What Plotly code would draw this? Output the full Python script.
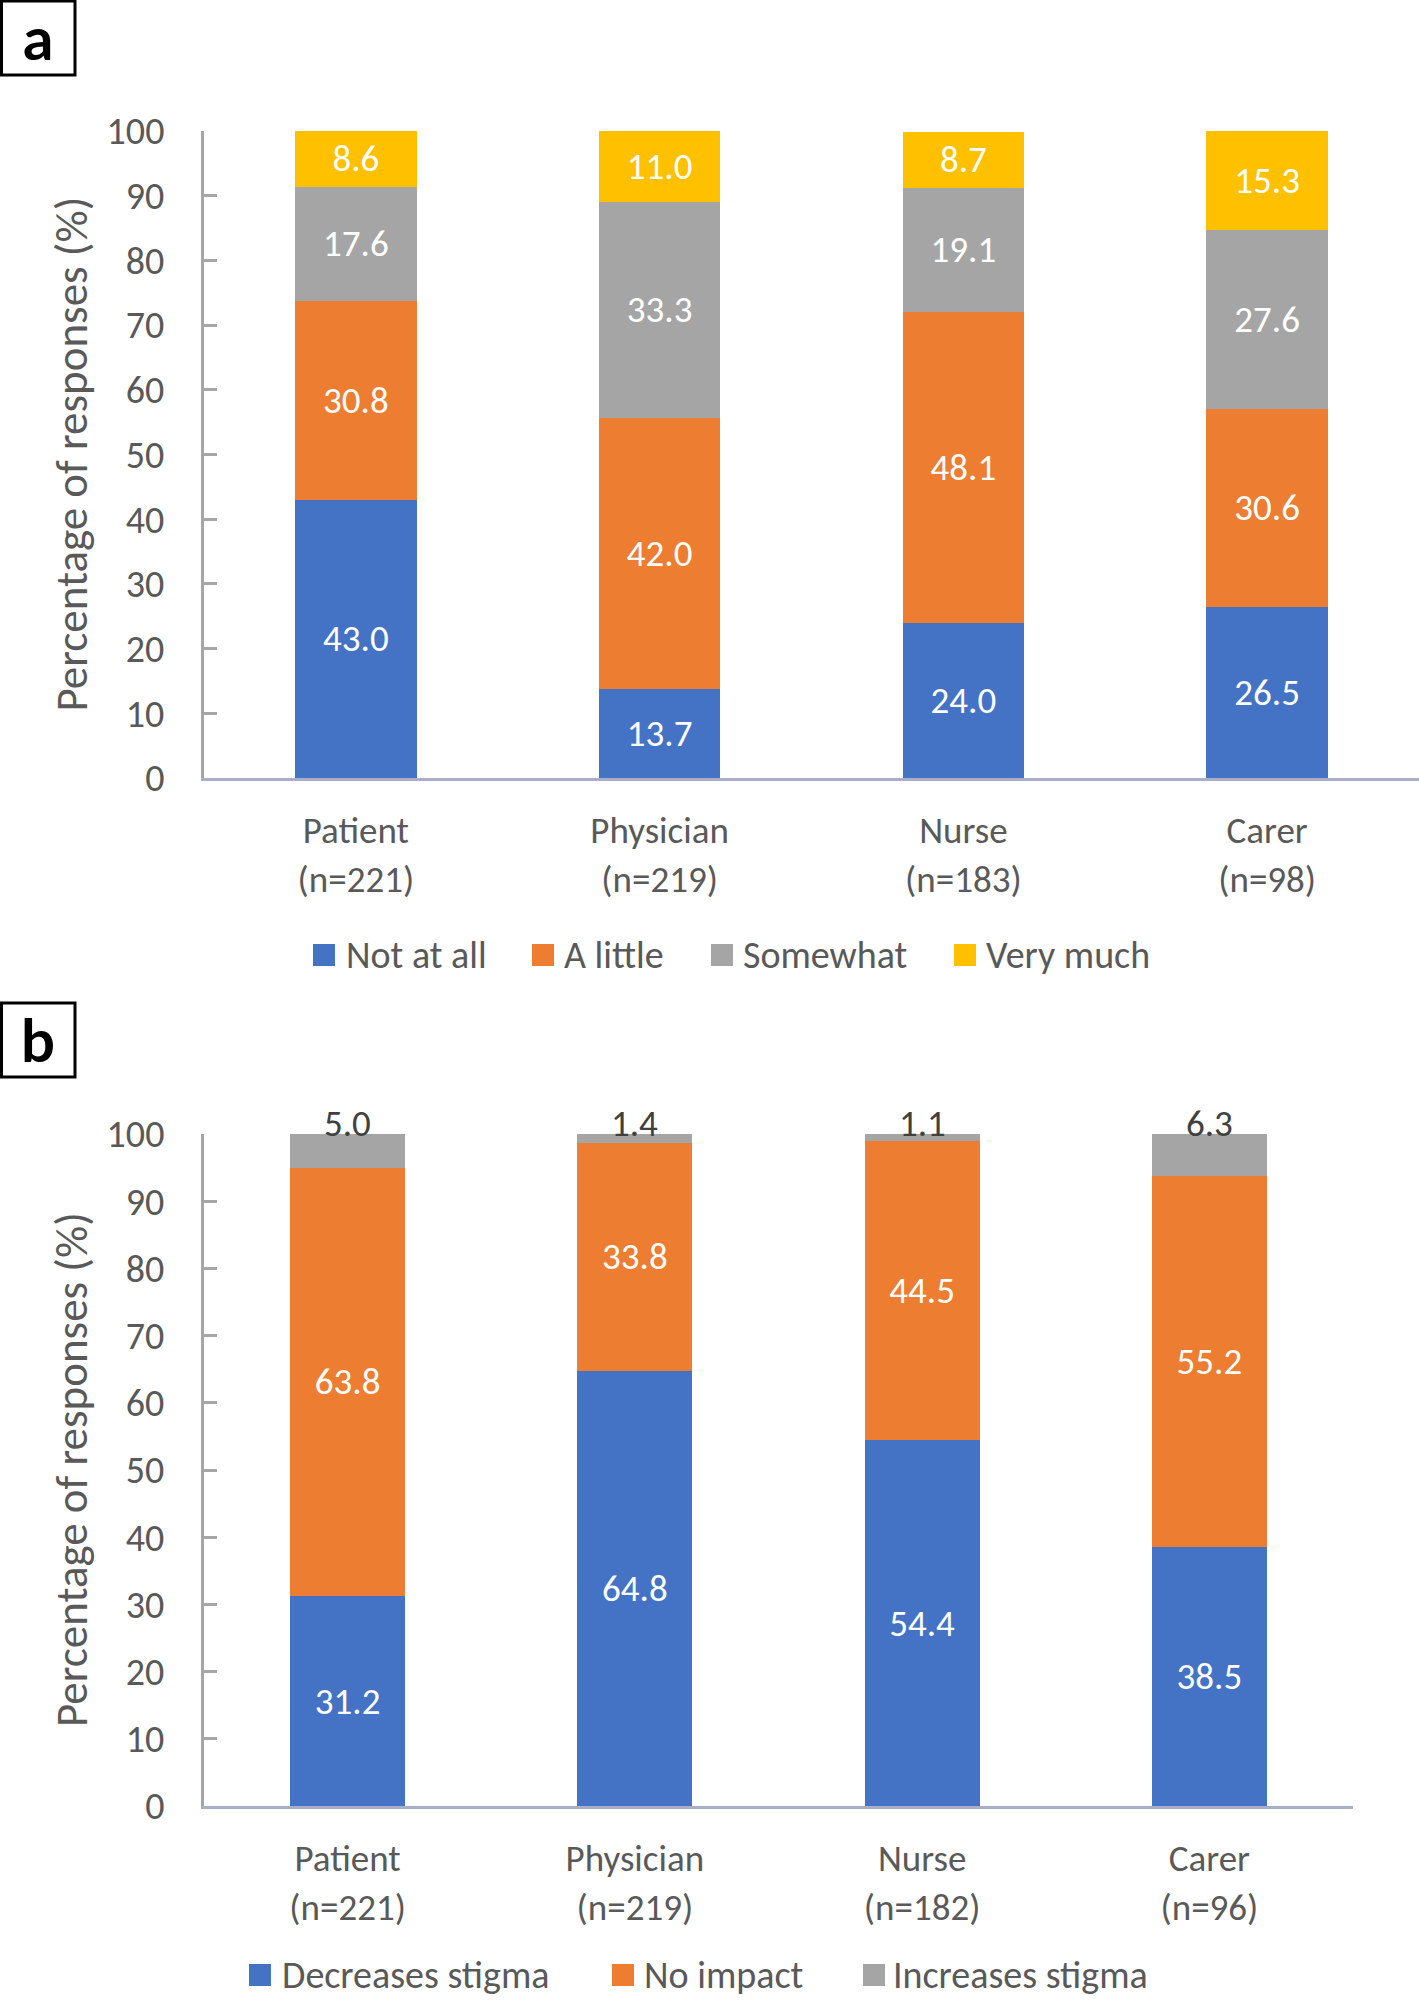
import plotly.graph_objects as go

W, H = 1419, 2000

# ---------------- data ----------------
categories_a = ["Patient<br>(n=221)", "Physician<br>(n=219)", "Nurse<br>(n=183)", "Carer<br>(n=98)"]
names_a = ["Not at all", "A little", "Somewhat", "Very much"]
not_at_all = [43.0, 13.7, 24.0, 26.5]
a_little = [30.8, 42.0, 48.1, 30.6]
somewhat = [17.6, 33.3, 19.1, 27.6]
very_much = [8.6, 11.0, 8.7, 15.3]

categories_b = ["Patient<br>(n=221)", "Physician<br>(n=219)", "Nurse<br>(n=182)", "Carer<br>(n=96)"]
names_b = ["Decreases stigma", "No impact", "Increases stigma"]
decreases = [31.2, 64.8, 54.4, 38.5]
no_impact = [63.8, 33.8, 44.5, 55.2]
increases = [5.0, 1.4, 1.1, 6.3]

y_tick_values = [0, 10, 20, 30, 40, 50, 60, 70, 80, 90, 100]
panel_labels = ["a", "b"]
axis_title = "Percentage of responses (%)"

# ---------------- style ----------------
FONT = "Carlito, Lato, sans-serif"
TXT = "#595959"
BLUE, ORANGE, GRAY, YELLOW = "#4472C4", "#ED7D31", "#A5A5A5", "#FFC000"
colors_a = [BLUE, ORANGE, GRAY, YELLOW]
colors_b = [BLUE, ORANGE, GRAY]
FS = 37


def px(x):
    return x / W


def py(y):
    return 1 - y / H


fig = go.Figure()

for name, vals, col in zip(names_a, [not_at_all, a_little, somewhat, very_much], colors_a):
    fig.add_trace(go.Bar(
        x=categories_a, y=vals, name=name, marker=dict(color=col, line=dict(width=0)),
        texttemplate="%{y:.1f}", textposition="inside", insidetextanchor="middle",
        constraintext="none", textfont=dict(color="white", size=FS, family=FONT),
        xaxis="x", yaxis="y", showlegend=False, hoverinfo="skip"))

for i, (name, vals, col) in enumerate(zip(names_b, [decreases, no_impact, increases], colors_b)):
    fig.add_trace(go.Bar(
        x=categories_b, y=vals, name=name, marker=dict(color=col, line=dict(width=0)),
        texttemplate="%{y:.1f}" if i < 2 else "", textposition="inside" if i < 2 else "none",
        insidetextanchor="middle", constraintext="none",
        textfont=dict(color="white", size=FS, family=FONT),
        xaxis="x2", yaxis="y2", showlegend=False, hoverinfo="skip"))

annotations = []
shapes = []

# top labels for "Increases stigma"
for cat, d, n, inc in zip(categories_b, decreases, no_impact, increases):
    annotations.append(dict(x=cat, y=d + n + inc, xref="x2", yref="y2", text=f"{inc:.1f}",
                            showarrow=False, yshift=11, yanchor="middle",
                            font=dict(color="#404040", size=FS, family=FONT)))

yaxis_common = dict(range=[0, 100], tickvals=y_tick_values, showgrid=False, zeroline=False,
                    showline=True, linecolor="#A6A6A6", linewidth=3, ticks="inside",
                    ticklen=13, tickwidth=3, tickcolor="#A6A6A6", ticklabelstandoff=29,
                    tickfont=dict(size=38, color=TXT, family=FONT), fixedrange=True,
                    automargin=False)
xaxis_common = dict(range=[-0.5, 3.5], showgrid=False, zeroline=False, showline=True,
                    linecolor="#ABAEC9", linewidth=3, ticks="", ticklabelstandoff=18,
                    tickfont=dict(size=FS, color=TXT, family=FONT), fixedrange=True,
                    automargin=False)

fig.update_layout(
    template=None,
    width=W, height=H, margin=dict(l=0, r=0, t=0, b=0, pad=0), autosize=False,
    paper_bgcolor="white", plot_bgcolor="white",
    barmode="stack", bargap=0.6,
    font=dict(family=FONT, color=TXT),
    xaxis=dict(domain=[px(204), 1.0], anchor="y", **xaxis_common),
    yaxis=dict(domain=[py(778), py(131)], anchor="x", **yaxis_common),
    xaxis2=dict(domain=[px(204), px(1353)], anchor="y2", **xaxis_common),
    yaxis2=dict(domain=[py(1806), py(1134)], anchor="x2", **yaxis_common),
)

# axis titles
for yc in [(131 + 778) / 2, (1134 + 1806) / 2]:
    annotations.append(dict(x=px(71), y=py(yc), xref="paper", yref="paper", text=axis_title,
                            textangle=-90, showarrow=False, xanchor="center", yanchor="middle",
                            font=dict(size=45, color=TXT, family=FONT)))

# panel label boxes
for lab, top in zip(panel_labels, [1, 1003]):
    shapes.append(dict(type="rect", xref="paper", yref="paper", x0=px(1.5), x1=px(75),
                       y0=py(top + 74), y1=py(top), line=dict(color="black", width=3),
                       fillcolor="white"))
    annotations.append(dict(x=px(38), y=py(top + 36), xref="paper", yref="paper", text=f"<b>{lab}</b>",
                            showarrow=False, xanchor="center", yanchor="middle",
                            font=dict(size=60, color="black", family="Lato, sans-serif")))


# legends (drawn manually)
def legend(names, colors, sq_left, text_left, yc):
    for nm, col, sl, tl in zip(names, colors, sq_left, text_left):
        shapes.append(dict(type="rect", xref="paper", yref="paper", x0=px(sl), x1=px(sl + 22),
                           y0=py(yc + 11), y1=py(yc - 11), line=dict(width=0), fillcolor=col))
        annotations.append(dict(x=px(tl), y=py(yc), xref="paper", yref="paper", text=nm,
                                showarrow=False, xanchor="left", yanchor="middle",
                                font=dict(size=38, color=TXT, family=FONT)))


legend(names_a, colors_a, [313, 532, 711, 954], [344, 562, 741, 984], 955)
legend(names_b, colors_b, [249, 612, 863], [280, 642, 891], 1975)

fig.update_layout(annotations=annotations, shapes=shapes)
fig.write_html("out.html", config={"displayModeBar": False},
               post_script="document.body.style.margin='0px';document.body.style.overflow='hidden';")
